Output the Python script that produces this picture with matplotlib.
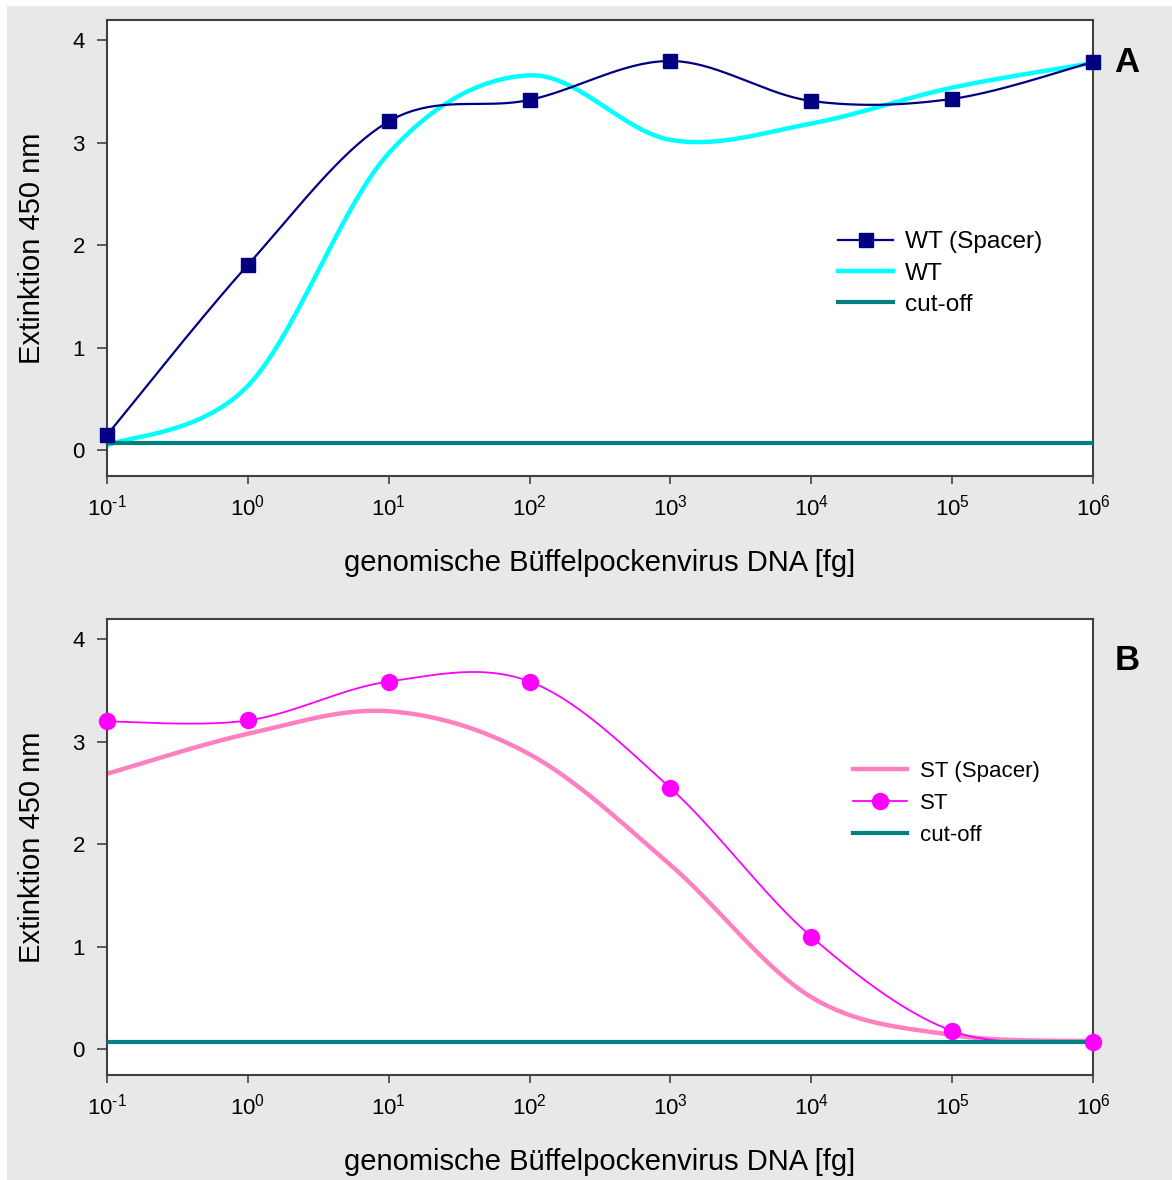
import numpy as np
import matplotlib
matplotlib.use('Agg')
import matplotlib.pyplot as plt
from matplotlib.patches import Rectangle
from matplotlib.lines import Line2D

plt.rcParams['font.family'] = ['Liberation Sans', 'DejaVu Sans']
plt.rcParams['mathtext.fontset'] = 'custom'
plt.rcParams['mathtext.rm'] = 'Liberation Sans'
plt.rcParams['mathtext.it'] = 'Liberation Sans:italic'
plt.rcParams['mathtext.bf'] = 'Liberation Sans:bold'

# data
dna_fg = [0.1, 1, 10, 100, 1e3, 1e4, 1e5, 1e6]
wt_spacer = [0.15, 1.81, 3.21, 3.42, 3.80, 3.41, 3.43, 3.79]
wt = [0.05, 0.63, 2.90, 3.66, 3.03, 3.19, 3.54, 3.78]
st_spacer = [2.69, 3.08, 3.30, 2.88, 1.80, 0.51, 0.14, 0.08]
st = [3.20, 3.21, 3.59, 3.59, 2.55, 1.10, 0.18, 0.07]
cutoff = [0.07] * 8
xtick_labels = [r'$10^{\text{-}1}$', '$10^{0}$', '$10^{1}$', '$10^{2}$',
                '$10^{3}$', '$10^{4}$', '$10^{5}$', '$10^{6}$']
yticks = [0, 1, 2, 3, 4]

xlabel = 'genomische Büffelpockenvirus DNA [fg]'
ylabel = 'Extinktion 450 nm'

navy = '#000080'
cyan = '#00FFFF'
teal = '#008080'
pink = '#FF80C0'
magenta = '#FF00FF'
axcol = '#404040'


def smooth(x, y, n=40):
    # Excel-style smoothed line (bezier through the points, in log-x space)
    lx = np.log10(np.asarray(x, float))
    y = np.asarray(y, float)
    px = np.r_[lx[0], lx, lx[-1]]
    py = np.r_[y[0], y, y[-1]]
    t = np.linspace(0, 1, n)
    ox, oy = [], []
    for i in range(1, len(px) - 2):
        p = []
        for q in (px, py):
            p1, p2 = q[i], q[i + 1]
            c1 = p1 + (q[i + 1] - q[i - 1]) / 6
            c2 = p2 - (q[i + 2] - q[i]) / 6
            p.append((1 - t) ** 3 * p1 + 3 * (1 - t) ** 2 * t * c1
                     + 3 * (1 - t) * t ** 2 * c2 + t ** 3 * p2)
        ox.append(p[0])
        oy.append(p[1])
    return 10 ** np.concatenate(ox), np.concatenate(oy)


W, H = 1172, 1180
fig = plt.figure(figsize=(W / 100, H / 100), dpi=100)
fig.patches.append(Rectangle((7 / W, 0), 1, 1 - 6 / H, transform=fig.transFigure,
                             facecolor='#E8E8E8', edgecolor='none', zorder=-10))

ax1 = fig.add_axes([107 / W, 1 - 476 / H, 986 / W, 456 / H])
ax2 = fig.add_axes([107 / W, 1 - 1075 / H, 986 / W, 456 / H])

# panel A
sx, sy = smooth(dna_fg, wt)
ax1.plot(sx, sy, color=cyan, lw=3.2, zorder=2)
sx, sy = smooth(dna_fg, wt_spacer)
ax1.plot(sx, sy, color=navy, lw=1.6, zorder=3)
ax1.plot(dna_fg, cutoff, color=teal, lw=3, zorder=4)
ax1.plot(dna_fg, wt_spacer, 's', color=navy, ms=10, zorder=5, clip_on=False)
h1 = [Line2D([], [], color=navy, lw=1.6, marker='s', ms=10),
      Line2D([], [], color=cyan, lw=3.2),
      Line2D([], [], color=teal, lw=3)]
leg1 = ax1.legend(h1, ['WT (Spacer)', 'WT', 'cut-off'], loc='upper left',
                  bbox_to_anchor=(838 / W, 1 - 231 / H), bbox_transform=fig.transFigure,
                  frameon=False, fontsize=17.6, handlelength=2.25, handletextpad=0.5,
                  labelspacing=0.38, borderpad=0, borderaxespad=0)

# panel B
sx, sy = smooth(dna_fg, st_spacer)
ax2.plot(sx, sy, color=pink, lw=3.2, zorder=2)
sx, sy = smooth(dna_fg, st)
ax2.plot(sx, sy, color=magenta, lw=1.3, zorder=3)
ax2.plot(dna_fg, cutoff, color=teal, lw=3, zorder=4)
ax2.plot(dna_fg, st, 'o', color=magenta, ms=11.5, zorder=5, clip_on=False)
h2 = [Line2D([], [], color=pink, lw=3.2),
      Line2D([], [], color=magenta, lw=1.3, marker='o', ms=11.5),
      Line2D([], [], color=teal, lw=3)]
leg2 = ax2.legend(h2, ['ST (Spacer)', 'ST', 'cut-off'], loc='upper left',
                  bbox_to_anchor=(853 / W, 1 - 761 / H), bbox_transform=fig.transFigure,
                  frameon=False, fontsize=16, handlelength=2.45, handletextpad=0.55,
                  labelspacing=0.5, borderpad=0, borderaxespad=0)

for ax in (ax1, ax2):
    ax.set_xscale('log')
    ax.set_xlim(0.1, 1e6)
    ax.set_ylim(-0.25, 4.2)
    ax.set_xticks(dna_fg)
    ax.set_xticklabels(xtick_labels)
    ax.minorticks_off()
    ax.set_yticks(yticks)
    ax.tick_params(axis='x', direction='out', length=5.5, width=1.2, color=axcol,
                   labelsize=16, pad=8)
    ax.tick_params(axis='y', direction='out', length=7, width=1.2, color=axcol,
                   labelsize=16, pad=9)
    for sp in ax.spines.values():
        sp.set_color(axcol)
        sp.set_linewidth(1.5)
    ax.set_xlabel(xlabel, fontsize=21)
    ax.set_ylabel(ylabel, fontsize=21)
    ax.xaxis.label.set_va('center')
    ax.yaxis.label.set_va('center')
    ax.xaxis.set_label_coords(0.5, -87 / 456)
    ax.yaxis.set_label_coords(-75 / 986, 0.5)

fig.text(1127 / W, 1 - 62 / H, 'A', fontsize=25, fontweight='bold', ha='center', va='center')
fig.text(1127 / W, 1 - 661 / H, 'B', fontsize=25, fontweight='bold', ha='center', va='center')

fig.savefig('out.png', dpi=100)
